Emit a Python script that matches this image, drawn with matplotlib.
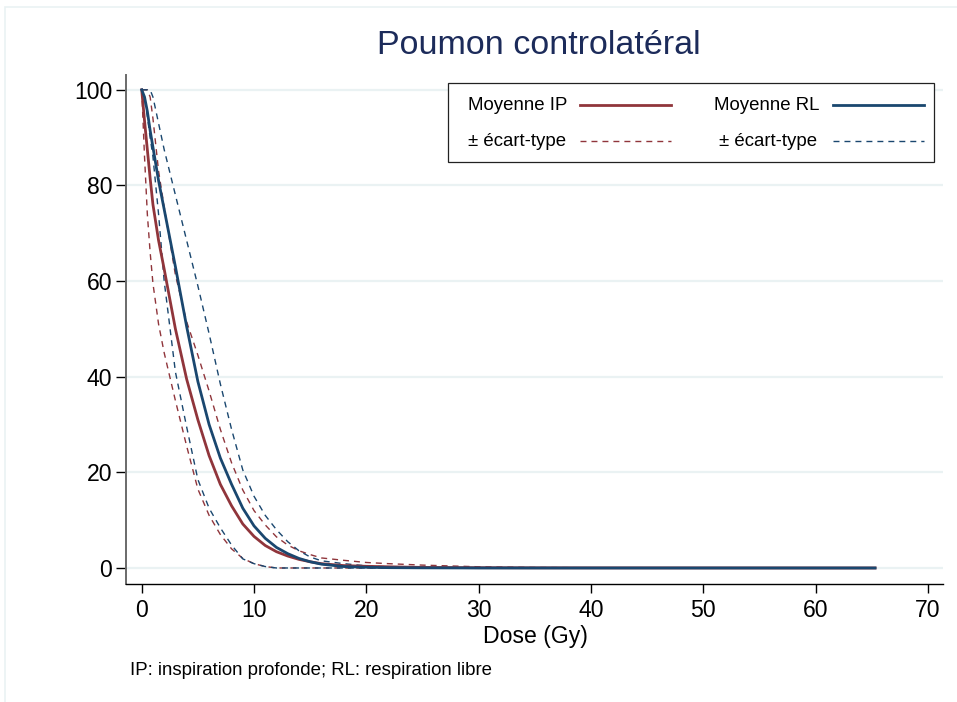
import matplotlib
matplotlib.use("Agg")
import matplotlib.pyplot as plt
from matplotlib.patches import Rectangle
from matplotlib.lines import Line2D

plt.rcParams['font.family'] = ['Liberation Sans', 'DejaVu Sans']

# Dose-volume histogram, contralateral lung (% volume vs dose in Gy)
dose = [0, 0.25, 0.5, 0.75, 1, 1.5, 2, 3, 4, 5, 6, 7, 8, 9, 10, 11, 12, 13, 14,
        15, 16, 18, 20, 22, 25, 30, 35, 40, 50, 60, 65.3]

# Deep inspiration (IP): mean, mean - sd, mean + sd
ip_mean = [100, 93.5, 87.5, 81.5, 76, 68.5, 62.5, 50, 39.5, 31, 23.5, 17.5, 13, 9.2,
           6.6, 4.7, 3.4, 2.5, 1.8, 1.3, 0.9, 0.5, 0.35, 0.25, 0.12, 0.06, 0.03, 0.02,
           0.01, 0, 0]
ip_lo = [100, 86, 74, 66, 59.5, 51, 45, 35, 25.5, 16.5, 11, 7, 4, 2, 0.9, 0.3, 0, 0, 0,
         0, 0, 0, 0, 0, 0, 0, 0, 0, 0, 0, 0]
ip_hi = [100, 100, 100, 98.5, 94, 83, 75.5, 61.3, 51.5, 44.5, 37, 29, 22, 16.3, 12, 9,
         6.5, 4.8, 3.6, 2.8, 2.1, 1.6, 1.15, 0.9, 0.6, 0.25, 0.1, 0.05, 0.02, 0, 0]

# Free breathing (RL): mean, mean - sd, mean + sd
rl_mean = [100, 98.5, 95.5, 91.5, 88, 81, 75, 63, 50.5, 39, 30, 23, 17.5, 12.5, 8.8,
           6.2, 4.3, 3.0, 2.0, 1.3, 0.8, 0.3, 0.15, 0.07, 0.03, 0, 0, 0, 0, 0, 0]
rl_lo = [100, 98, 94.5, 90, 86, 74, 60, 41, 29.5, 18.5, 12.5, 8.4, 4.8, 1.9, 0.9, 0.3,
         0, 0, 0, 0, 0, 0, 0, 0, 0, 0, 0, 0, 0, 0, 0]
rl_hi = [100, 100, 100, 100, 98.5, 93, 87.5, 78, 68.5, 59, 49, 38.5, 29, 20.5, 15, 11,
         8, 5.5, 3.6, 2.3, 1.5, 0.9, 0.45, 0.25, 0.1, 0, 0, 0, 0, 0, 0]

x_ticks = [0, 10, 20, 30, 40, 50, 60, 70]
y_ticks = [0, 20, 40, 60, 80, 100]

RED = '#90353b'
BLUE = '#1a476f'
GRID = '#eaf2f3'
DASH = (0, (4.3, 3.6))

W, H = 957, 702
fig = plt.figure(figsize=(W / 100, H / 100), dpi=100)
fig.patch.set_facecolor('white')


def fpos(x, y):
    return x / W, 1 - y / H


# faint outer frame
fig.patches.append(Rectangle(fpos(5, 709), 1.0, 1.0, transform=fig.transFigure,
                             fill=False, edgecolor=GRID, lw=1.2))

ax = fig.add_axes([126 / W, (H - 584) / H, (943 - 126) / W, (584 - 75) / H])
ax.set_xlim(-1.4, 71.35)
ax.set_ylim(-3.35, 103.1)

for s in ('top', 'right'):
    ax.spines[s].set_visible(False)
ax.spines['left'].set_color('#6a6a6a')
ax.spines['left'].set_linewidth(1.4)
ax.spines['bottom'].set_color('black')
ax.spines['bottom'].set_linewidth(1.0)

ax.set_xticks(x_ticks)
ax.set_yticks(y_ticks)
ax.tick_params(axis='both', labelsize=16.6, colors='black')
ax.tick_params(axis='x', length=6.5, width=1.0, pad=4)
ax.tick_params(axis='y', length=7, width=1.0, pad=3)
ax.xaxis.get_major_ticks()[-1].tick1line.set_color('#777777')
ax.yaxis.grid(True, color=GRID, lw=1.6)
ax.set_axisbelow(True)

ax.plot(dose, ip_lo, color=RED, lw=1.0, ls=DASH)
ax.plot(dose, ip_hi, color=RED, lw=1.0, ls=DASH)
ax.plot(dose, rl_lo, color=BLUE, lw=1.0, ls=DASH)
ax.plot(dose, rl_hi, color=BLUE, lw=1.0, ls=DASH)
ax.plot(dose, ip_mean, color=RED, lw=2.0)
ax.plot(dose, rl_mean, color=BLUE, lw=2.0)

# titles and notes
fig.text(*fpos(539, 45), 'Poumon controlatéral', ha='center', va='center',
         fontsize=24.5, color='#1c2b5a')
fig.text(*fpos(535, 637), 'Dose (Gy)', ha='center', va='center', fontsize=16.6)
fig.text(*fpos(130, 675), 'IP: inspiration profonde; RL: respiration libre',
         ha='left', va='baseline', fontsize=13.4)

# legend box
x0, y0 = fpos(448, 162)
x1, y1 = fpos(934, 83)
fig.patches.append(Rectangle((x0, y0), x1 - x0, y1 - y0, transform=fig.transFigure,
                             facecolor='white', edgecolor='#222222', lw=0.9, zorder=5))

legend_rows = [
    ('Moyenne IP', 468, 105, (580, 671), RED, '-', 2.0),
    ('± écart-type', 468, 141, (580, 671), RED, DASH, 1.0),
    ('Moyenne RL', 714, 105, (833, 924), BLUE, '-', 2.0),
    ('± écart-type', 719, 141, (833, 924), BLUE, DASH, 1.0),
]
for label, tx, ty, (lx0, lx1), col, ls, lw in legend_rows:
    fig.text(*fpos(tx, ty), label, ha='left', va='center', fontsize=13.4, zorder=6)
    a, b = fpos(lx0, ty)
    c, d = fpos(lx1, ty)
    fig.lines.append(Line2D([a, c], [b, d], transform=fig.transFigure, color=col,
                            ls=ls, lw=lw, zorder=6))

fig.savefig('out.png', dpi=100)
